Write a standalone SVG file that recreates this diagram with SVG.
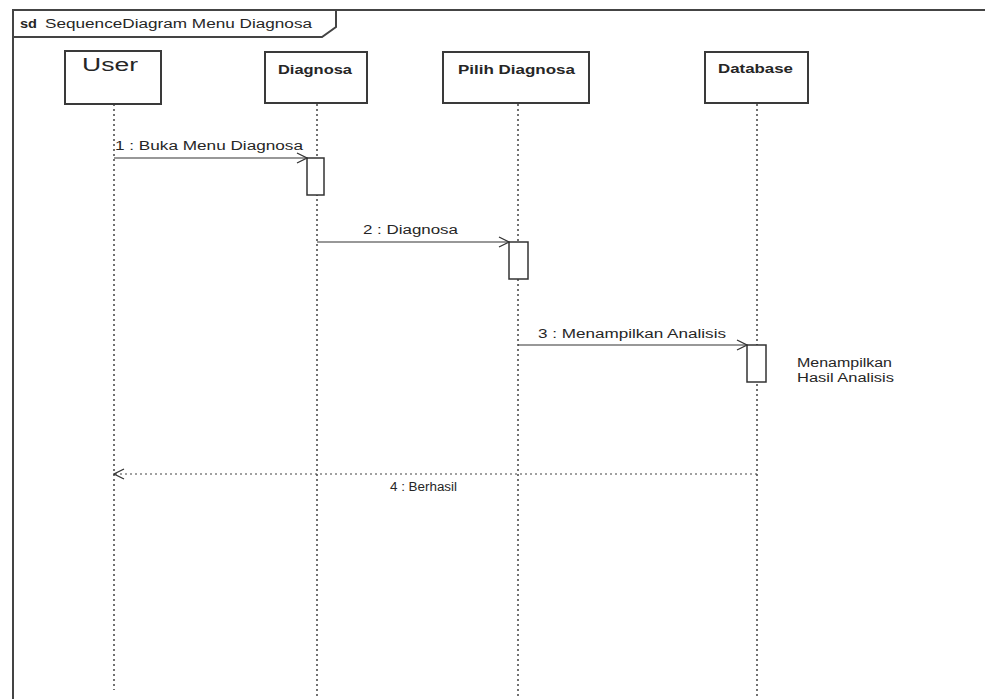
<svg xmlns="http://www.w3.org/2000/svg" width="985" height="699" viewBox="0 0 985 699">
<style>
text{font-family:"Liberation Sans",Arial,sans-serif;fill:#262626}
.box{fill:#fff;stroke:#3a3a3a;stroke-width:2}
.lbl{font-size:12px;font-weight:bold;text-anchor:middle}
.life{stroke:#444;stroke-width:1.5;stroke-dasharray:2 3;fill:none}
.act{fill:#fff;stroke:#333;stroke-width:1.5}
.msg{stroke:#333;stroke-width:1.2;fill:none}
.ret{stroke:#444;stroke-width:1.2;stroke-dasharray:2 3;fill:none}
.mt{font-size:12px}
.frame{fill:none;stroke:#444;stroke-width:2}
</style>
<defs>
<marker id="open" viewBox="0 0 12 12" refX="11" refY="6" markerWidth="12" markerHeight="12" markerUnits="userSpaceOnUse" orient="auto">
<path d="M1,1 L11,6 L1,11" fill="none" stroke="#333" stroke-width="1.3"/>
</marker>
</defs>
<rect width="985" height="699" fill="#fff"/>
<g id="frame">
<path class="frame" d="M13,699 L13,10 L990,10"/>
<path class="frame" d="M13,37 L322,37 L336,27 L336,10"/>
<text x="20" y="28" font-size="12" font-weight="bold" textLength="17" lengthAdjust="spacingAndGlyphs">sd</text>
<text x="45" y="28" font-size="12" textLength="267" lengthAdjust="spacingAndGlyphs">SequenceDiagram Menu Diagnosa</text>
</g>
<g id="user">
<line class="life" x1="114" y1="104" x2="114" y2="690"/>
<rect class="box" x="65" y="51" width="96" height="53"/>
<text x="110" y="71" font-size="18" text-anchor="middle" textLength="56" lengthAdjust="spacingAndGlyphs">User</text>
</g>
<g id="diagnosa">
<line class="life" x1="317" y1="104" x2="317" y2="699"/>
<rect class="box" x="265" y="52" width="102" height="51"/>
<text class="lbl" x="315" y="74" textLength="74" lengthAdjust="spacingAndGlyphs">Diagnosa</text>
</g>
<g id="pilih">
<line class="life" x1="518" y1="104" x2="518" y2="699"/>
<rect class="box" x="443" y="52" width="146" height="51"/>
<text class="lbl" x="516.5" y="74" textLength="117" lengthAdjust="spacingAndGlyphs">Pilih Diagnosa</text>
</g>
<g id="database">
<line class="life" x1="757" y1="104" x2="757" y2="699"/>
<rect class="box" x="705" y="52" width="103" height="51"/>
<text class="lbl" x="755.5" y="73" textLength="75" lengthAdjust="spacingAndGlyphs">Database</text>
</g>
<g id="activations">
<rect class="act" x="307" y="158" width="17" height="37"/>
<rect class="act" x="509" y="242" width="19" height="37"/>
<rect class="act" x="747" y="345" width="19" height="37"/>
</g>
<g id="connectors">
<line class="msg" x1="114" y1="158" x2="307" y2="158" marker-end="url(#open)"/>
<text class="mt" x="115" y="150" textLength="188" lengthAdjust="spacingAndGlyphs">1 : Buka Menu Diagnosa</text>
<line class="msg" x1="317" y1="242" x2="509" y2="242" marker-end="url(#open)"/>
<text class="mt" x="363" y="234" textLength="95" lengthAdjust="spacingAndGlyphs">2 : Diagnosa</text>
<line class="msg" x1="518" y1="345" x2="747" y2="345" marker-end="url(#open)"/>
<text class="mt" x="538" y="338" textLength="188" lengthAdjust="spacingAndGlyphs">3 : Menampilkan Analisis</text>
<line class="ret" x1="757" y1="474" x2="114" y2="474" marker-end="url(#open)"/>
<text class="mt" x="390" y="491" font-size="13" textLength="67" lengthAdjust="spacingAndGlyphs">4 : Berhasil</text>
</g>
<g id="note">
<text class="mt" x="797" y="367" textLength="95" lengthAdjust="spacingAndGlyphs">Menampilkan</text>
<text class="mt" x="797" y="382" textLength="97" lengthAdjust="spacingAndGlyphs">Hasil Analisis</text>
</g>
</svg>
